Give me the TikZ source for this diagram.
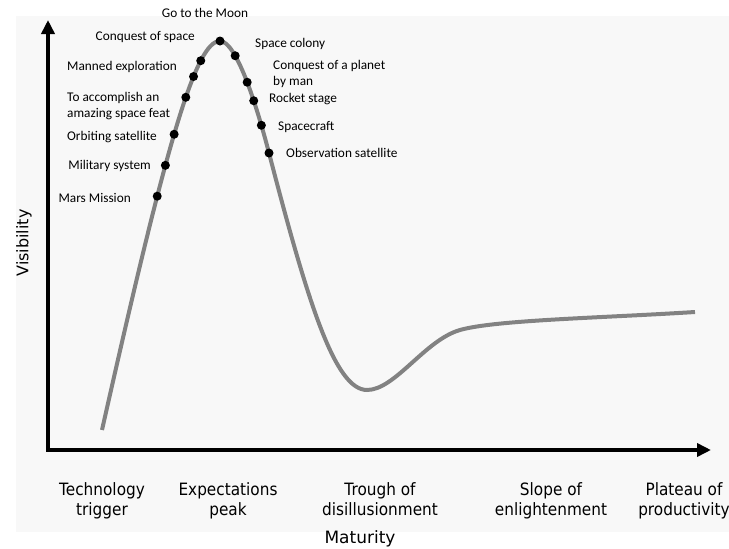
\documentclass[tikz,border=0pt]{standalone}
\usepackage{fontspec}
\setmainfont{Carlito}
\newfontfamily\botfont[FakeStretch=0.9]{DejaVu Sans}
\newfontfamily\axfont{DejaVu Sans}
\usetikzlibrary{arrows.meta}
\definecolor{bgc}{HTML}{F8F8F8}
\definecolor{curvec}{HTML}{828282}
\begin{document}
\begin{tikzpicture}[x=1pt,y=-1pt,
  lbl/.style={inner sep=0pt, font=\fontsize{13.3}{16}\selectfont},
  stage/.style={inner sep=0pt, anchor=north, align=center, font=\botfont\fontsize{17}{20}\selectfont},
  axtitle/.style={inner sep=0pt, font=\axfont\fontsize{17}{20}\selectfont},
  axisline/.style={line width=4pt, line join=miter, {Triangle[length=14pt,width=13pt]}-{Triangle[length=14pt,width=13pt]}},
  hype/.style={line width=4pt, draw=curvec},
  dot/.style={fill=black}]
\useasboundingbox (0,0) rectangle (729,549);
\fill[bgc] (16,16) rectangle (729,532);
% axes
\coordinate (ytip) at (48,20);
\coordinate (orig) at (48,450);
\coordinate (xtip) at (711,450);
\draw[axisline] (ytip) -- (orig) -- (xtip);
% hype curve
\draw[hype] (102,430) .. controls (165,150) and (195,41) .. (220,41)
  coordinate[pos=0.35] (d1) coordinate[pos=0.415] (d2) coordinate[pos=0.49] (d3)
  coordinate[pos=0.6] (d4) coordinate[pos=0.68] (d5) coordinate[pos=0.76] (d6) coordinate[pos=1] (d7)
  .. controls (236,41) and (256,103) .. (269,153)
  coordinate[pos=0.3] (e1) coordinate[pos=0.53] (e2) coordinate[pos=0.66] (e3)
  coordinate[pos=0.82] (e4) coordinate[pos=1] (e5)
  .. controls (308,303) and (335,390) .. (367,390)
  .. controls (395,390) and (425,340) .. (460,330)
  .. controls (495,320) and (600,318) .. (695,312);
\foreach \p in {d1,d2,d3,d4,d5,d6,d7,e1,e2,e3,e4,e5}
  \fill[dot] (\p) circle (4.5pt);
% left labels
\node[lbl, anchor=base] (lmoon) at (205,17) {Go to the Moon};
\node[lbl, anchor=base east] (lconq) at (195,40) {Conquest of space};
\node[lbl, anchor=base east] (lmann) at (177,70) {Manned exploration};
\node[lbl, anchor=north west, align=left] (lfeat) at (67,90) {\strut To accomplish an\\amazing space feat};
\node[lbl, anchor=base east] (lorb) at (157,140) {Orbiting satellite};
\node[lbl, anchor=base east] (lmil) at (151,169) {Military system};
\node[lbl, anchor=base east] (lmars) at (131,202) {Mars Mission};
% right labels
\node[lbl, anchor=base west] (lcol) at (255,47) {Space colony};
\node[lbl, anchor=north west, align=left] (lplan) at (273,58) {\strut Conquest of a planet\\by man};
\node[lbl, anchor=base west] (lrock) at (269,102) {Rocket stage};
\node[lbl, anchor=base west] (lcraft) at (278,130) {Spacecraft};
\node[lbl, anchor=base west] (lobs) at (286,157) {Observation satellite};
% stages
\node[stage] (s1) at (102,481) {\strut Technology\\trigger};
\node[stage] (s2) at (228,481) {\strut Expectations\\peak};
\node[stage] (s3) at (380,481) {\strut Trough of\\disillusionment};
\node[stage] (s4) at (551,481) {\strut Slope of\\enlightenment};
\node[stage] (s5) at (684,481) {\strut Plateau of\\productivity};
% axis titles
\node[axtitle, anchor=base] (mat) at (360,543) {Maturity};
\node[axtitle, font=\axfont\fontsize{16}{19}\selectfont, rotate=90] (vis) at (24,243) {Visibility};
\end{tikzpicture}
\end{document}
